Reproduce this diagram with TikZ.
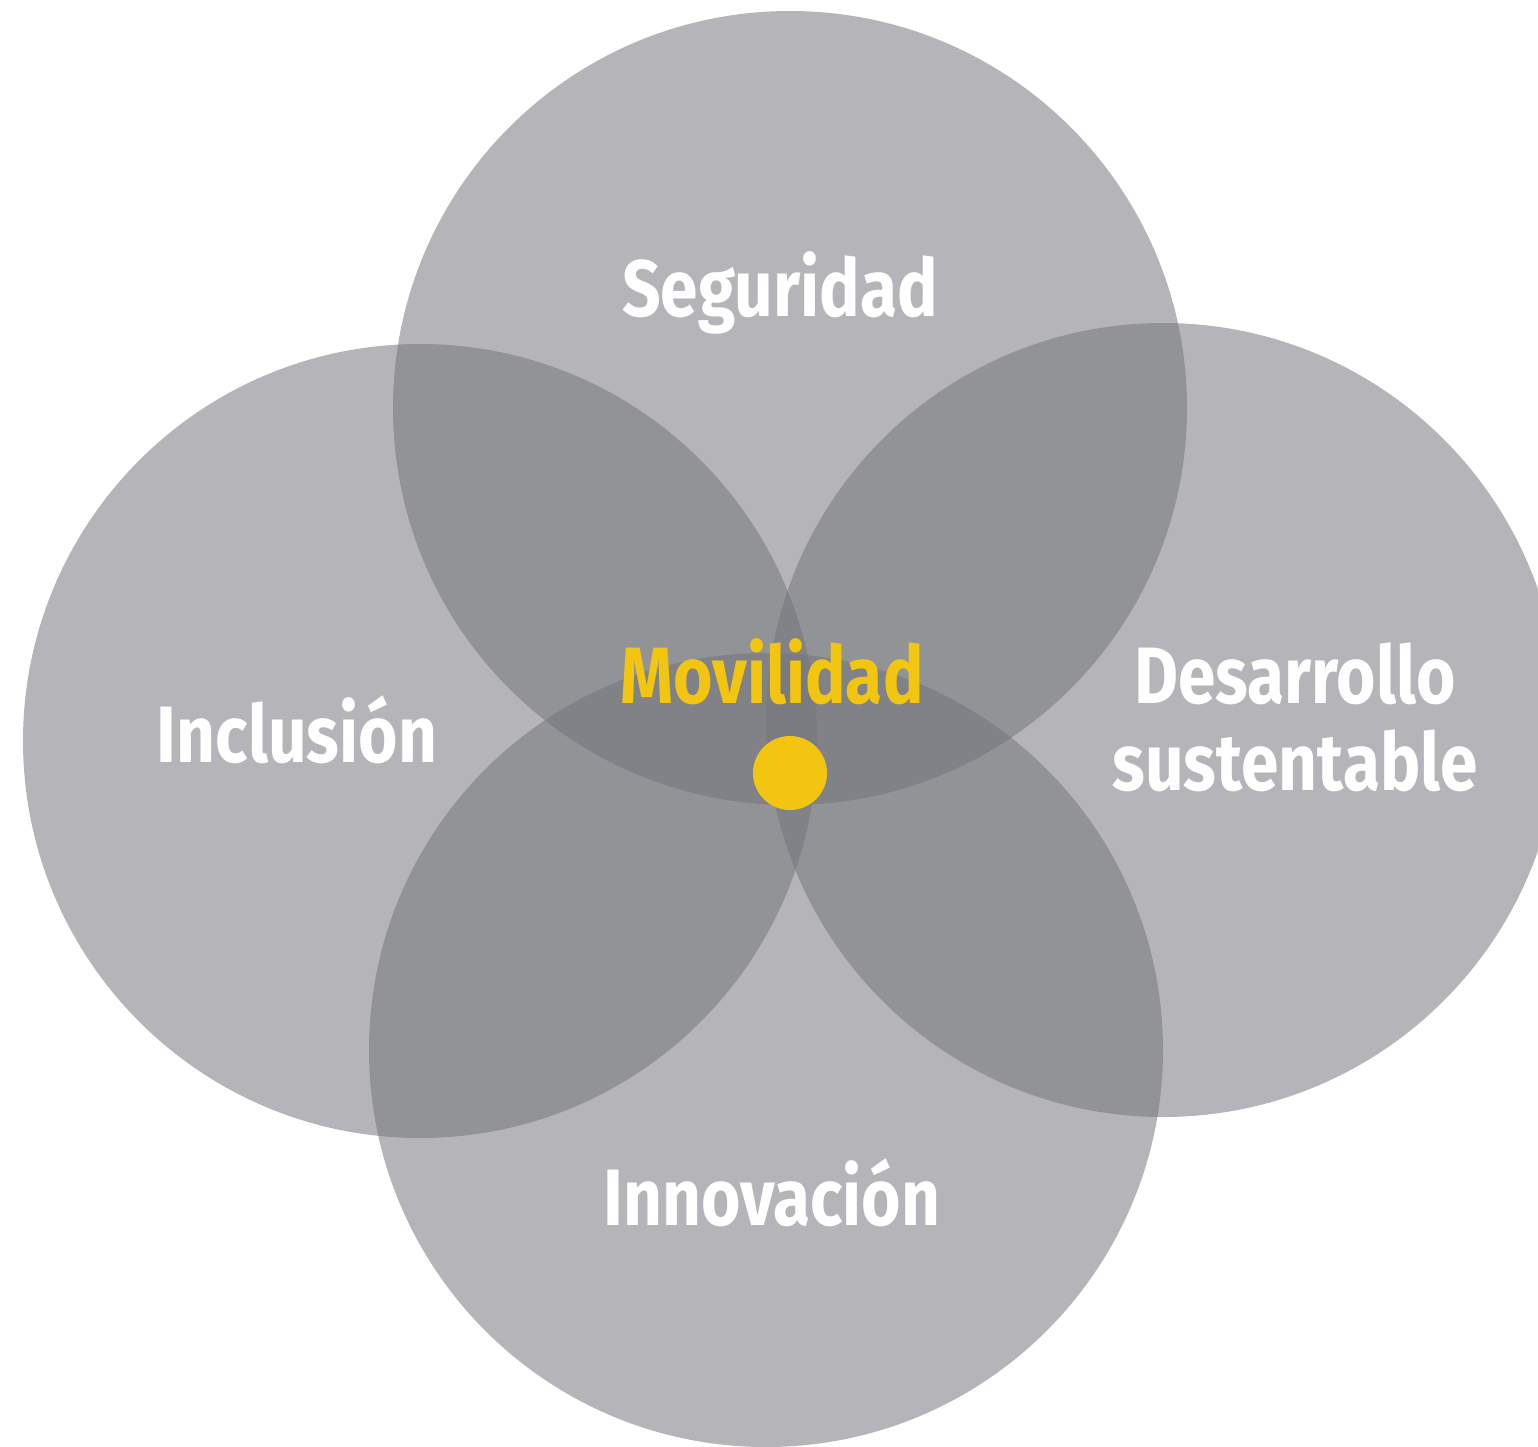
\documentclass[tikz,border=0pt]{standalone}
\usepackage{fontspec}
\setmainfont{Fira Sans}
\newfontfamily\lblfont[FakeStretch=0.845]{Fira Sans}
\definecolor{circgray}{RGB}{115,116,122}
\definecolor{movyellow}{RGB}{242,197,17}
\begin{document}
\begin{tikzpicture}[x=1pt,y=-1pt,
  petal/.style={fill=circgray,fill opacity=0.53,draw=none},
  lbl/.style={text=white,font=\lblfont\fontsize{80}{88}\selectfont\bfseries,anchor=base,inner sep=0pt,align=center},
  ctr/.style={text=movyellow,font=\lblfont\fontsize{80}{88}\selectfont\bfseries,anchor=base,inner sep=0pt}]
\useasboundingbox (0,0) rectangle (1538,1446);
\fill[petal] (790,408) circle[radius=397];
\fill[petal] (420,741) circle[radius=397];
\fill[petal] (1163,720) circle[radius=397];
\fill[petal] (766,1050) circle[radius=397];
\node[lbl] (seg) at (780,316) {Seguridad};
\node[lbl] (inc) at (297,762) {Inclusión};
\node[lbl] (des) at (1295,703) {Desarrollo};
\node[lbl] (sus) at (1295,790) {sustentable};
\node[lbl] (inn) at (772,1225) {Innovación};
\node[ctr] (mov) at (772,703) {Movilidad};
\fill[movyellow] (790,773) circle[radius=37] coordinate (dot);
\end{tikzpicture}
\end{document}
